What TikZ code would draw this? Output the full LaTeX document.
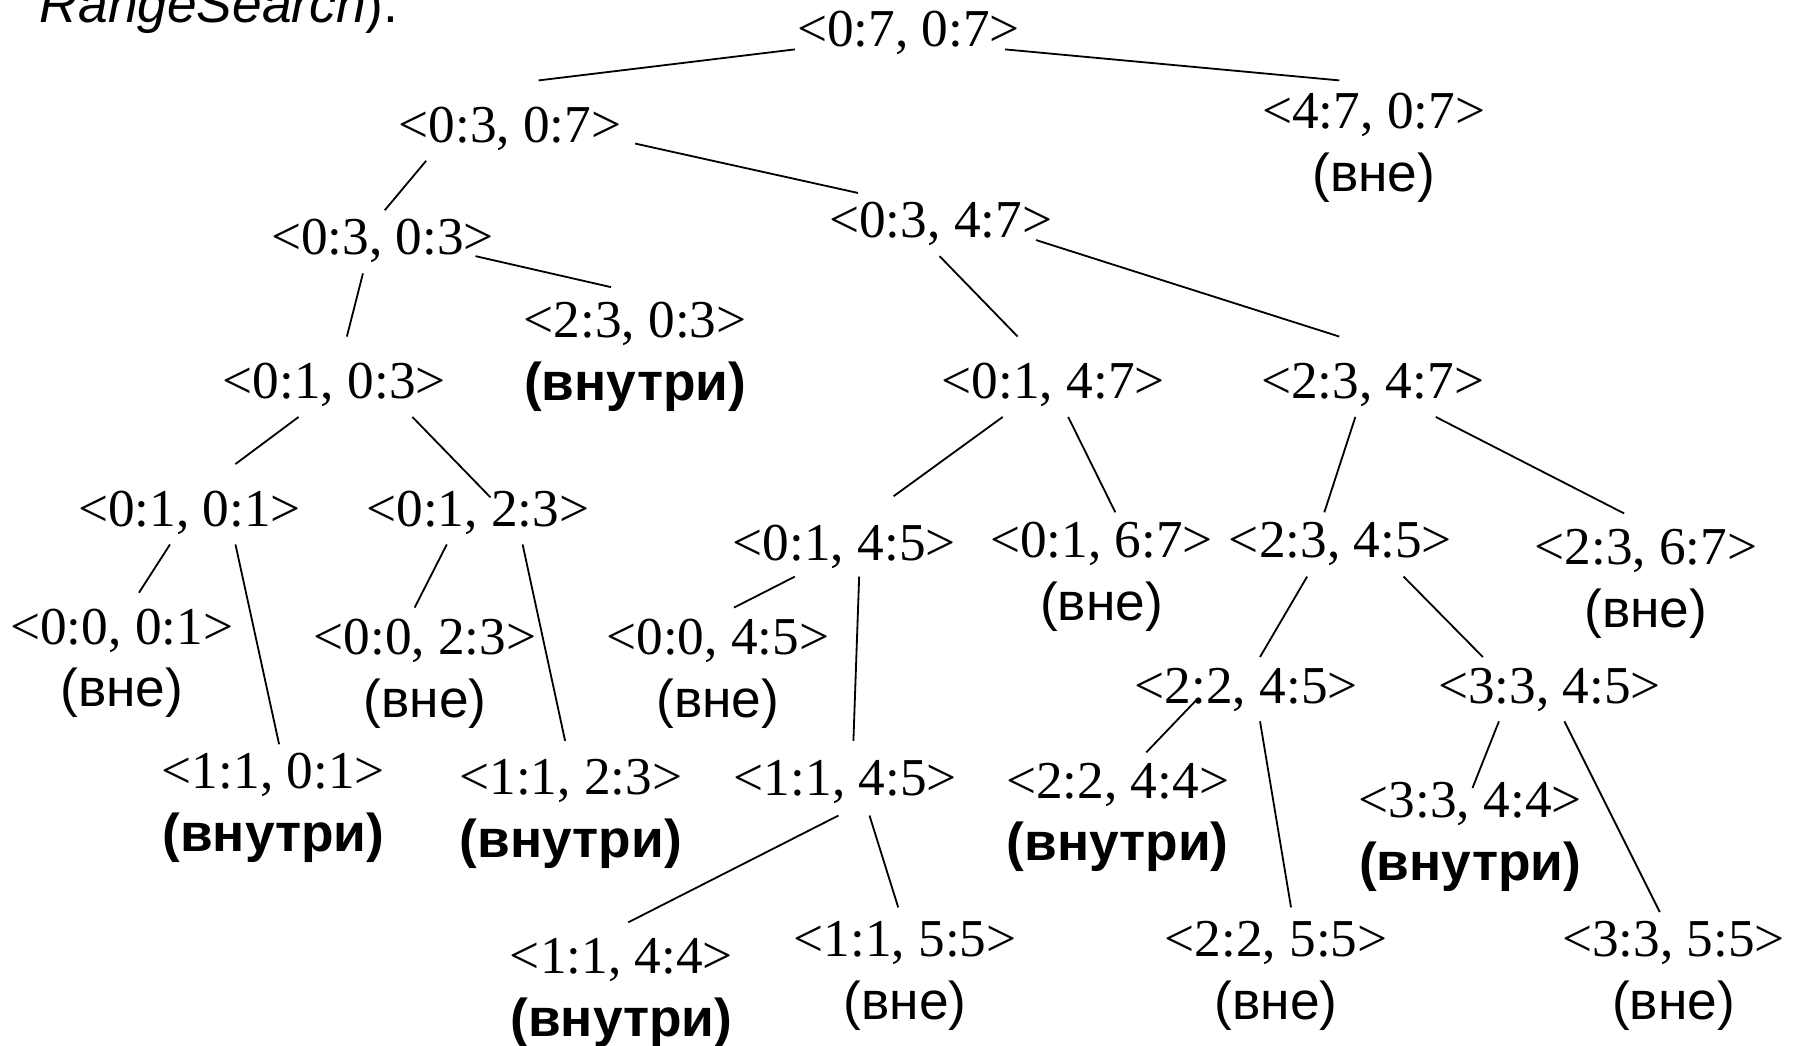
\documentclass[tikz,border=0pt]{standalone}
\usepackage{fontspec}
\setmainfont{Liberation Serif}
\setsansfont{Liberation Sans}
\usetikzlibrary{positioning}

\begin{document}
\begin{tikzpicture}[x=0.02cm,y=-0.02cm,line width=0.9pt,node distance=0.582cm,
  tup/.style={inner sep=0pt,text height=17.95pt,text depth=0pt,font=\fontsize{26.4}{32}\selectfont},
  vne/.style={inner sep=0pt,text height=13.7pt,text depth=0pt,font=\sffamily\fontsize{26.4}{32}\selectfont},
  vnutri/.style={vne,font=\sffamily\bfseries\fontsize{26.4}{32}\selectfont}]

  \useasboundingbox (0,0) rectangle (1568,910);

  \node[anchor=base west,inner sep=0pt,font=\sffamily\fontsize{26.4}{32}\selectfont] (cap) at (34,19.5) {\textit{RangeSearch}).};

  \node[tup] (N0707) at (791,25) {<0:7, 0:7>};
  \node[tup] (N0307) at (444,108) {<0:3, 0:7>};
  \node[tup] (N4707) at (1196,96) {<4:7, 0:7>};
  \node[vne,below=of N4707] (N4707s) {(вне)};

  \node[tup] (N0303) at (333,206) {<0:3, 0:3>};
  \node[tup] (N0347) at (819,191) {<0:3, 4:7>};
  \node[tup] (N2303) at (553,278) {<2:3, 0:3>};
  \node[vnutri,below=of N2303] (N2303s) {(внутри)};

  \node[tup] (N0103) at (291,331) {<0:1, 0:3>};
  \node[tup] (N0147) at (917,331) {<0:1, 4:7>};
  \node[tup] (N2347) at (1195,331) {<2:3, 4:7>};

  \node[tup] (N0101) at (165,443) {<0:1, 0:1>};
  \node[tup] (N0123) at (416,443) {<0:1, 2:3>};
  \node[tup] (N0145) at (735,472) {<0:1, 4:5>};
  \node[tup] (N0167) at (959,470) {<0:1, 6:7>};
  \node[vne,below=of N0167] (N0167s) {(вне)};
  \node[tup] (N2345) at (1167,470) {<2:3, 4:5>};
  \node[tup] (N2367) at (1433,476) {<2:3, 6:7>};
  \node[vne,below=of N2367] (N2367s) {(вне)};

  \node[tup] (N0001) at (106,545) {<0:0, 0:1>};
  \node[vne,below=of N0001] (N0001s) {(вне)};
  \node[tup] (N0023) at (370,554) {<0:0, 2:3>};
  \node[vne,below=of N0023] (N0023s) {(вне)};
  \node[tup] (N0045) at (625,554) {<0:0, 4:5>};
  \node[vne,below=of N0045] (N0045s) {(вне)};
  \node[tup] (N2245) at (1085,597) {<2:2, 4:5>};
  \node[tup] (N3345) at (1349,597) {<3:3, 4:5>};

  \node[tup] (N1101) at (238,671) {<1:1, 0:1>};
  \node[vnutri,below=of N1101] (N1101s) {(внутри)};
  \node[tup] (N1123) at (497,676) {<1:1, 2:3>};
  \node[vnutri,below=of N1123] (N1123s) {(внутри)};
  \node[tup] (N1145) at (736,677) {<1:1, 4:5>};
  \node[tup] (N2244) at (973,679) {<2:2, 4:4>};
  \node[vnutri,below=of N2244] (N2244s) {(внутри)};
  \node[tup] (N3344) at (1280,696) {<3:3, 4:4>};
  \node[vnutri,below=of N3344] (N3344s) {(внутри)};

  \node[tup] (N1144) at (541,832) {<1:1, 4:4>};
  \node[vnutri,below=of N1144] (N1144s) {(внутри)};
  \node[tup] (N1155) at (788,817) {<1:1, 5:5>};
  \node[vne,below=of N1155] (N1155s) {(вне)};
  \node[tup] (N2255) at (1111,817) {<2:2, 5:5>};
  \node[vne,below=of N2255] (N2255s) {(вне)};
  \node[tup] (N3355) at (1457,817) {<3:3, 5:5>};
  \node[vne,below=of N3355] (N3355s) {(вне)};

  \draw ([shift={(-99,18)}]N0707.center) -- ([shift={(25,-38)}]N0307.center);
  \draw ([shift={(84,18)}]N0707.center) -- ([shift={(-30,-26)}]N4707.center);
  \draw ([shift={(-73,32)}]N0307.center) -- ([shift={(2,-23)}]N0303.center);
  \draw ([shift={(109,17)}]N0307.center) -- ([shift={(-72,-23)}]N0347.center);
  \draw ([shift={(-17,32)}]N0303.center) -- ([shift={(11,-38)}]N0103.center);
  \draw ([shift={(81,17)}]N0303.center) -- ([shift={(-21,-28)}]N2303.center);
  \draw ([shift={(-1,32)}]N0347.center) -- ([shift={(-31,-38)}]N0147.center);
  \draw ([shift={(83,18)}]N0347.center) -- ([shift={(-29,-38)}]N2347.center);

  \draw ([shift={(-31,32)}]N0103.center) -- ([shift={(40,-39)}]N0101.center);
  \draw ([shift={(68,32)}]N0103.center) -- ([shift={(11,-10)}]N0123.center);
  \draw ([shift={(-44,32)}]N0147.center) -- ([shift={(43,-40)}]N0145.center);
  \draw ([shift={(13,32)}]N0147.center) -- ([shift={(12,-24)}]N0167.center);
  \draw ([shift={(-15,32)}]N2347.center) -- ([shift={(-14,-24)}]N2345.center);
  \draw ([shift={(55,32)}]N2347.center) -- ([shift={(-19,-29)}]N2367.center);

  \draw ([shift={(-17,31)}]N0101.center) -- ([shift={(15,-29)}]N0001.center);
  \draw ([shift={(40,31)}]N0101.center) -- ([shift={(5,-23)}]N1101.center);
  \draw ([shift={(-27,31)}]N0123.center) -- ([shift={(-9,-25)}]N0023.center);
  \draw ([shift={(39,31)}]N0123.center) -- ([shift={(-5,-31)}]N1123.center);
  \draw ([shift={(-43,30)}]N0145.center) -- ([shift={(14,-25)}]N0045.center);
  \draw ([shift={(13,30)}]N0145.center) -- ([shift={(7,-32)}]N1145.center);
  \draw ([shift={(-29,32)}]N2345.center) -- ([shift={(12,-25)}]N2245.center);
  \draw ([shift={(55,32)}]N2345.center) -- ([shift={(-58,-25)}]N3345.center);

  \draw ([shift={(-42,11)}]N2245.center) -- ([shift={(25,-24)}]N2244.center);
  \draw ([shift={(12,31)}]N2245.center) -- ([shift={(13,-27)}]N2255.center);
  \draw ([shift={(-44,31)}]N3345.center) -- ([shift={(2,-10)}]N3344.center);
  \draw ([shift={(13,31)}]N3345.center) -- ([shift={(-12,-23)}]N3355.center);
  \draw ([shift={(-6,33)}]N1145.center) -- ([shift={(6,-29)}]N1144.center);
  \draw ([shift={(21,33)}]N1145.center) -- ([shift={(-6,-27)}]N1155.center);

\end{tikzpicture}
\end{document}
